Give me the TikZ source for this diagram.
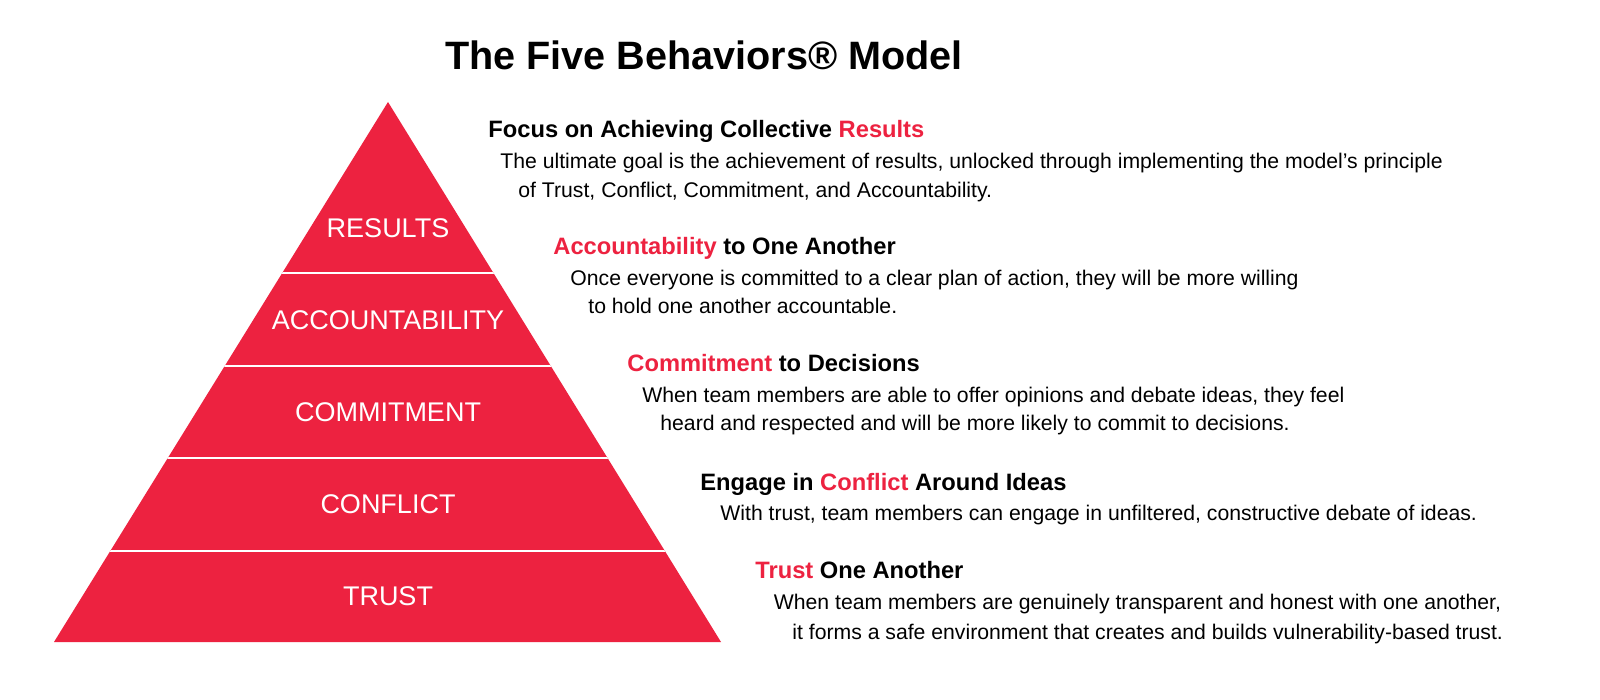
\documentclass[tikz,border=0pt]{standalone}
\usepackage{fontspec}
\setmainfont{Liberation Sans}
\definecolor{fbred}{RGB}{237,34,64}
\begin{document}
\begin{tikzpicture}[x=0.5pt,y=-0.5pt,
  head/.style={anchor=base west,inner sep=0,font=\fontsize{11.85}{14}\selectfont\bfseries},
  body/.style={anchor=base west,inner sep=0,font=\fontsize{10.6}{13}\selectfont},
  tier/.style={anchor=center,inner sep=0,text=white,font=\fontsize{13.5}{16}\selectfont},
  hl/.style={text=fbred}]
\fill[white] (0,0) rectangle (1600,700);
\useasboundingbox (0,0) rectangle (1600,700);
% pyramid
\coordinate (apex) at (388,102);
\coordinate (bl) at (54,642);
\coordinate (br) at (721,642);
\fill[fbred] (apex) -- (br) -- (bl) -- cycle;
\begin{scope}
  \clip (apex) -- (br) -- (bl) -- cycle;
  \foreach \yy in {273,365.5,458,550.5}
    \draw[white,line width=1pt] (0,\yy) -- (800,\yy);
\end{scope}
\node[tier] (tResults) at (388,228) {RESULTS};
\node[tier] (tAcc) at (388,320) {ACCOUNTABILITY};
\node[tier] (tCom) at (388,412) {COMMITMENT};
\node[tier] (tCon) at (388,504) {CONFLICT};
\node[tier] (tTrust) at (388,596) {TRUST};
% title
\node[anchor=base,inner sep=0,font=\fontsize{19.8}{24}\selectfont\bfseries] (title) at (704,70) {The Five Behaviors® Model};
% block 1
\node[head] (h1) at (488,138) {Focus on Achieving Collective \textcolor{fbred}{Results}};
\node[body] (b1a) at (500,168.6) {The ultimate goal is the achievement of results, unlocked through implementing the model’s principle};
\node[body] (b1b) at (518,197.6) {of Trust, Conflict, Commitment, and Accountability.};
% block 2
\node[head] (h2) at (553,254.5) {\textcolor{fbred}{Accountability} to One Another};
\node[body] (b2a) at (570,285.6) {Once everyone is committed to a clear plan of action, they will be more willing};
\node[body] (b2b) at (588,313.6) {to hold one another accountable.};
% block 3
\node[head] (h3) at (627,371.5) {\textcolor{fbred}{Commitment} to Decisions};
\node[body] (b3a) at (642,402.6) {When team members are able to offer opinions and debate ideas, they feel};
\node[body] (b3b) at (660,430.6) {heard and respected and will be more likely to commit to decisions.};
% block 4
\node[head] (h4) at (700,490) {Engage in \textcolor{fbred}{Conflict} Around Ideas};
\node[body] (b4a) at (720,520.6) {With trust, team members can engage in unfiltered, constructive debate of ideas.};
% block 5
\node[head] (h5) at (755,578.5) {\textcolor{fbred}{Trust} One Another};
\node[body] (b5a) at (773.5,609.6) {When team members are genuinely transparent and honest with one another,};
\node[body] (b5b) at (792,639.2) {it forms a safe environment that creates and builds vulnerability-based trust.};
\end{tikzpicture}
\end{document}
